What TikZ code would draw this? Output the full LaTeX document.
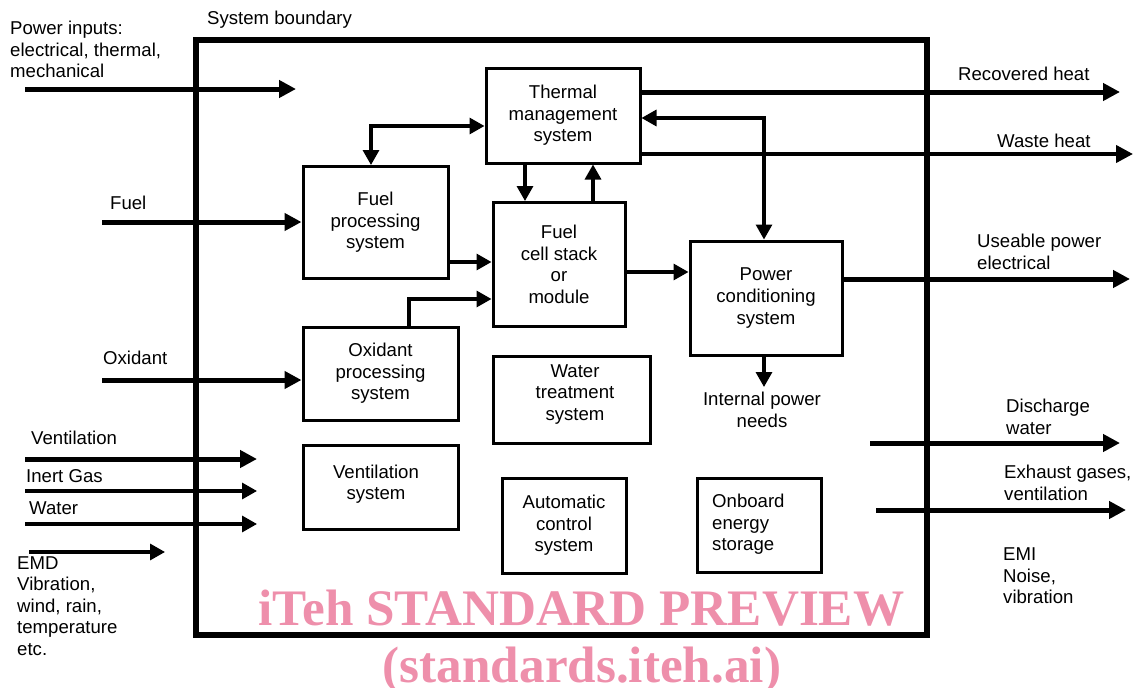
\documentclass[tikz,border=0pt]{standalone}
\usepackage{fontspec}
\setmainfont{Liberation Sans}
\newfontfamily\wmfont{Liberation Serif}
\usetikzlibrary{arrows.meta}
\definecolor{wmpink}{RGB}{238,143,171}
\newcommand\dgfont{\fontsize{18.6}{21.6}\selectfont}
\newcommand\wmsize{\fontsize{51.2}{56}\selectfont}
\tikzset{
  box/.style={draw, line width=3pt, inner sep=0pt, align=center, font=\dgfont},
  bnd/.style={draw, line width=5.5pt, inner sep=0pt, outer sep=0pt},
  lbl/.style={font=\dgfont, inner sep=0pt, anchor=west, align=left},
  bigtip/.tip={Triangle[length=17pt,width=17pt]},
  smalltip/.tip={Triangle[length=15pt,width=16pt]},
  thickarr/.style={line width=5pt, -bigtip},
  medarr/.style={line width=4pt, -bigtip},
  thinarr/.style={line width=3.2pt, -smalltip},
  thinboth/.style={line width=3.2pt, smalltip-smalltip},
  wm/.style={text=wmpink, font=\wmfont\bfseries\wmsize, inner sep=0pt, anchor=base}
}
\begin{document}
\begin{tikzpicture}[x=1pt,y=-1pt]
\useasboundingbox (0,0) rectangle (1133,688);

% system boundary
\node[bnd, minimum width=731pt, minimum height=595pt] (bound) at (561.5,337.5) {};
\node[lbl] (bndlbl) at (207,20) {System boundary};

% boxes
\node[box, minimum width=154pt, minimum height=95pt] (therm) at (563,115.5) {Thermal\\management\\system};
\node[box, minimum width=145pt, minimum height=112pt] (fproc) at (375.5,222.5) {Fuel\\processing\\system};
\node[box, minimum width=132pt, minimum height=124pt] (stack) at (559,264.5) {Fuel\\cell stack\\or\\module};
\node[box, minimum width=152pt, minimum height=114pt] (pcond) at (766,298) {Power\\conditioning\\system};
\node[box, minimum width=155pt, minimum height=93pt] (oproc) at (380.5,373.5) {Oxidant\\processing\\system};
\node[box, minimum width=157pt, minimum height=87pt] (water) at (571.5,399.5) {};
\node[lbl, anchor=center, align=center] (watertxt) at (575,394.5) {Water\\treatment\\system};
\node[box, minimum width=155pt, minimum height=84pt] (vent) at (380.5,487) {};
\node[lbl, anchor=center, align=center] (venttxt) at (376,484) {Ventilation\\system};
\node[box, minimum width=124pt, minimum height=95pt] (auto) at (564,525.5) {Automatic\\control\\system};
\node[box, minimum width=124pt, minimum height=94pt] (onb) at (759,525) {};
\node[lbl] (onbtxt) at (712,524.5) {Onboard\\energy\\storage};

% helper coordinates
\coordinate (tf) at (371,126);
\coordinate (xa) at (525,0);
\coordinate (xb) at (593,0);
\coordinate (ya) at (262,262);
\coordinate (xo) at (409,299);
\coordinate (ys) at (0,272);
\coordinate (yr) at (0,92);
\coordinate (yp) at (764,118);
\coordinate (yw) at (0,154);
\coordinate (yu) at (0,279);

% internal connectors
\draw[thinboth] (therm.west |- tf) -| (fproc.north -| tf);
\draw[thinarr] (therm.south -| xa) -- (stack.north -| xa);
\draw[thinarr] (stack.north -| xb) -- (therm.south -| xb);
\draw[thinarr] (fproc.east |- ya) -- (stack.west |- ya);
\draw[thinarr] (oproc.north -| xo) |- (stack.west |- xo);
\draw[thinarr] (stack.east |- ys) -- (pcond.west |- ys);
\draw[thinboth] (therm.east |- yp) -| (pcond.north -| yp);

% outputs
\coordinate (recov) at (1120,92);
\coordinate (waste) at (1133,154);
\coordinate (useable) at (1130,279);
\coordinate (intp) at (764,387);
\draw[thickarr] (therm.east |- yr) -- (recov);
\draw[medarr] (therm.east |- yw) -- (waste);
\draw[thickarr] (pcond.east |- yu) -- (useable);
\draw[thinarr] (pcond.south -| intp) -- (intp);

\node[lbl] (recovlbl) at (958,74) {Recovered heat};
\node[lbl] (wastelbl) at (997,141) {Waste heat};
\node[lbl] (uselbl) at (977,252) {Useable power\\electrical};
\node[lbl, anchor=center, align=center] (intlbl) at (762,410) {Internal power\\needs};

% inputs
\coordinate (pwin0) at (25,89);
\coordinate (pwin1) at (296,89);
\draw[thickarr] (pwin0) -- (pwin1);
\node[lbl] (pwlbl) at (10,49.5) {Power inputs:\\electrical, thermal,\\mechanical};

\coordinate (fuelin) at (102,222);
\draw[thickarr] (fuelin) -- (fproc.west |- fuelin);
\node[lbl] (fuellbl) at (110,203) {Fuel};

\coordinate (oxin) at (102,380);
\draw[thickarr] (oxin) -- (oproc.west |- oxin);
\node[lbl] (oxlbl) at (103,358) {Oxidant};

\coordinate (ven0) at (25,459);
\coordinate (ven1) at (257,459);
\draw[thickarr] (ven0) -- (ven1);
\node[lbl] (venlbl) at (31,438) {Ventilation};

\coordinate (ine0) at (25,491);
\coordinate (ine1) at (257,491);
\draw[thinarr] (ine0) -- (ine1);
\node[lbl] (inelbl) at (26,476) {Inert Gas};

\coordinate (wat0) at (25,524);
\coordinate (wat1) at (257,524);
\draw[thinarr] (wat0) -- (wat1);
\node[lbl] (watlbl) at (29,508) {Water};

\coordinate (emd0) at (29,552);
\coordinate (emd1) at (165,552);
\draw[thinarr] (emd0) -- (emd1);
\node[lbl] (emdlbl) at (17,606) {EMD\\Vibration,\\wind, rain,\\temperature\\etc.};

% right-side outputs
\coordinate (dis0) at (870,443);
\coordinate (dis1) at (1120,443);
\draw[thickarr] (dis0) -- (dis1);
\node[lbl] (dislbl) at (1006,417) {Discharge\\water};

\coordinate (exh0) at (876,510);
\coordinate (exh1) at (1126,510);
\draw[thickarr] (exh0) -- (exh1);
\node[lbl] (exhlbl) at (1004,483) {Exhaust gases,\\ventilation};

\node[lbl] (emilbl) at (1003,576) {EMI\\Noise,\\vibration};

% watermark
\node[wm] (wm1) at (581.5,625) {iTeh STANDARD PREVIEW};
\node[wm] (wm2) at (582,682) {(standards.iteh.ai)};
\end{tikzpicture}
\end{document}
